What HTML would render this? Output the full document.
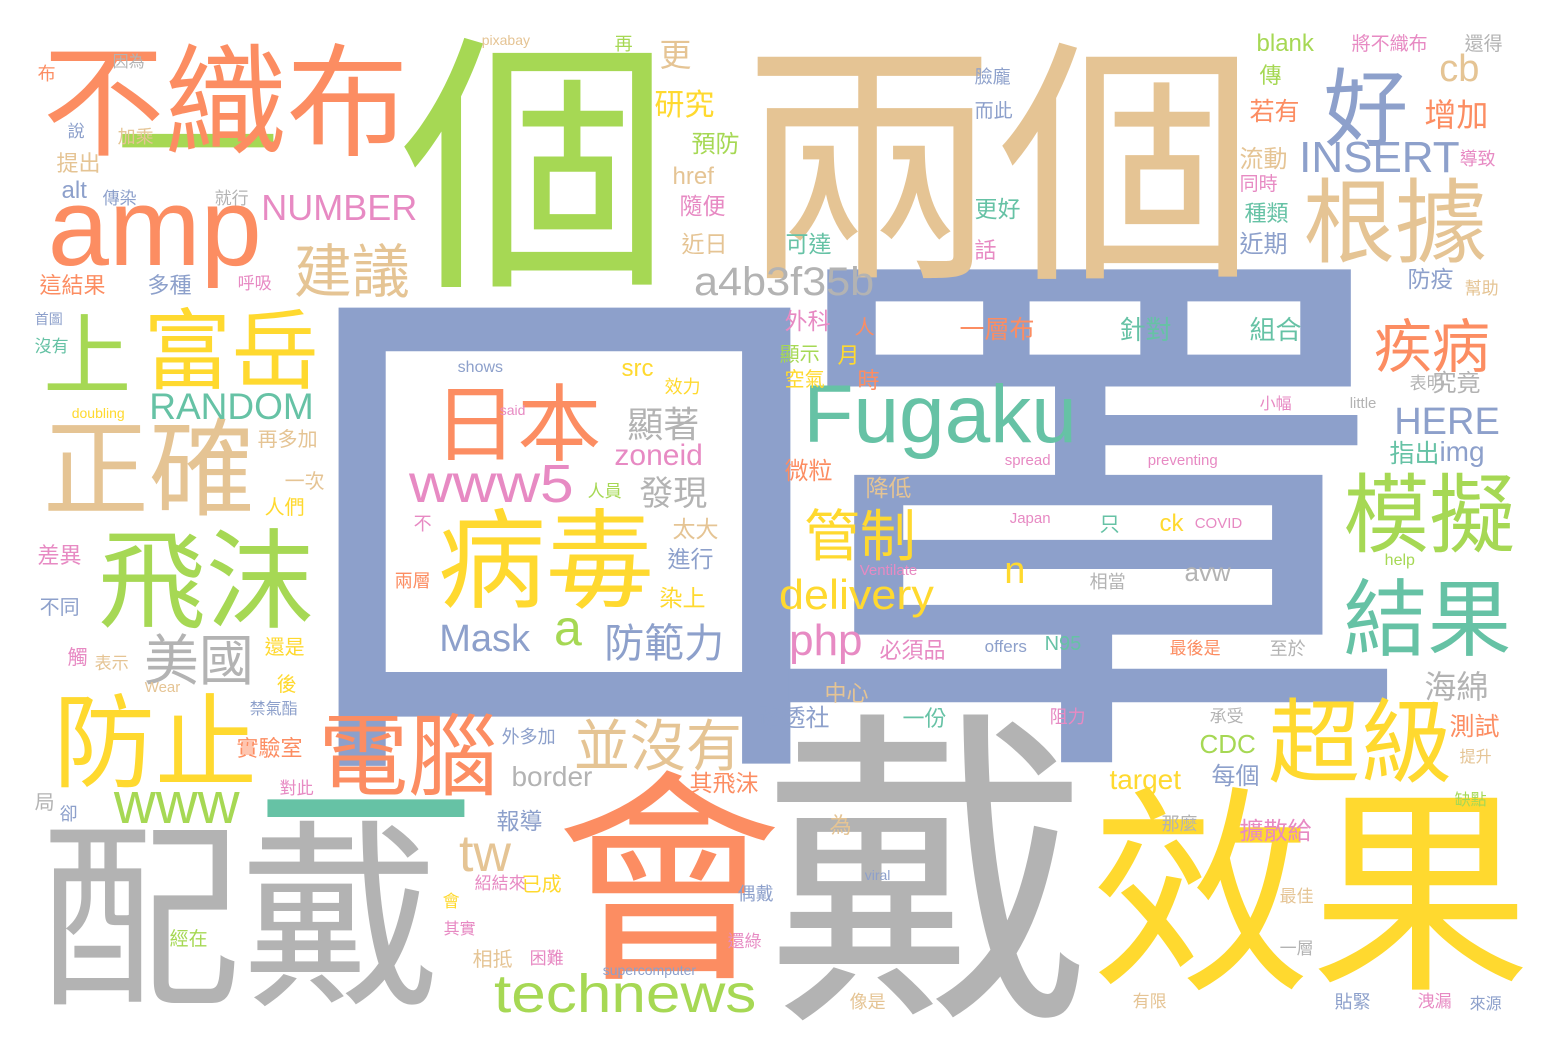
<!DOCTYPE html>
<html><head><meta charset="utf-8">
<style>
html,body{margin:0;padding:0;background:#fff;}
#cloud{position:relative;width:1548px;height:1052px;overflow:hidden;background:#fff;}
#cloud span{position:absolute;white-space:nowrap;line-height:1;font-family:"Liberation Sans","Noto Sans CJK TC",sans-serif;transform-origin:0 0;}
</style></head>
<body>
<div id="cloud"></div>
<script>
const palette = {g:'#a6d854',o:'#fc8d62',b:'#8da0cb',t:'#66c2a5',p:'#e78ac3',y:'#ffd92f',n:'#e5c494',a:'#b3b3b3'};
// word, color, ink-left, ink-top, font-size, kind (c=CJK, L=latin caps/ascenders, x=x-height only)
const words = [
['個','g',405,40,272,'c'],
['兩個','n',745,45,258,'c'],
['戴','a',770,720,330,'c'],
['會','o',560,775,226,'c'],
['效果','y',1095,790,220,'c'],
['配戴','a',45,825,200,'c'],
['不織布','o',45,45,122,'c'],
['amp','o',50,210,110,'x'],
['好','b',1325,70,85,'c'],
['根據','n',1305,180,92,'c'],
['上','g',45,315,88,'c'],
['富岳','y',145,310,88,'c'],
['正確','n',45,420,106,'c'],
['飛沫','g',100,530,108,'c'],
['美國','a',145,635,55,'c'],
['防止','y',55,695,102,'c'],
['電腦','o',320,715,90,'c'],
['www','g',115,795,58,'x'],
['建議','n',295,245,58,'c'],
['NUMBER','p',262,195,36,'L'],
['RANDOM','t',150,393,37,'L'],
['日本','o',435,385,84,'c'],
['www5','p',410,465,54,'L'],
['病毒','y',440,510,108,'c'],
['Mask','b',440,625,38,'L'],
['a','g',555,620,50,'x'],
['防範力','b',605,625,40,'c'],
['顯著','a',628,408,36,'c'],
['zoneid','p',615,445,30,'L'],
['發現','a',640,478,34,'c'],
['shows','b',458,362,16,'L'],
['Fugaku','t',805,385,82,'L'],
['一層布','o',960,318,25,'c'],
['針對','t',1120,318,26,'c'],
['組合','t',1250,318,26,'c'],
['模擬','g',1345,475,86,'c'],
['結果','t',1345,580,84,'c'],
['疾病','o',1375,320,58,'c'],
['超級','y',1270,700,92,'c'],
['並沒有','n',575,720,56,'c'],
['管制','y',805,510,56,'c'],
['delivery','y',780,580,42,'L'],
['php','p',790,625,44,'L'],
['tw','n',460,835,52,'L'],
['technews','g',495,975,54,'L'],
['a4b3f35b','a',695,268,40,'L'],
['INSERT','b',1300,142,44,'L'],
['cb','n',1440,55,38,'L'],
['增加','o',1425,100,32,'c'],
['HERE','b',1395,408,38,'L'],
['指出','t',1390,442,25,'c'],
['img','b',1440,442,28,'L'],
['海綿','a',1425,672,32,'c'],
['測試','o',1450,715,25,'c'],
['target','y',1110,770,28,'L'],
['每個','b',1212,765,24,'c'],
['擴散給','p',1240,820,24,'c'],
['CDC','g',1200,735,26,'L'],
['border','a',512,767,28,'L'],
['報導','b',497,810,23,'c'],
['研究','y',655,92,30,'c'],
['更','n',660,40,32,'c'],
['預防','g',692,133,24,'c'],
['href','n',673,168,24,'L'],
['隨便','p',680,195,23,'c'],
['近日','n',682,233,23,'c'],
['可達','t',786,233,23,'c'],
['更好','t',975,198,23,'c'],
['話','p',975,240,22,'c'],
['臉龐','b',975,68,18,'c'],
['而此','b',975,102,19,'c'],
['若有','o',1250,100,25,'c'],
['流動','n',1240,148,24,'c'],
['同時','p',1240,175,19,'c'],
['種類','t',1245,203,22,'c'],
['近期','b',1240,233,24,'c'],
['傳','g',1260,65,22,'c'],
['blank','g',1257,35,24,'L'],
['將不織布','p',1352,35,19,'c'],
['還得','a',1465,35,19,'c'],
['導致','p',1460,150,18,'c'],
['防疫','b',1408,268,23,'c'],
['幫助','n',1465,280,17,'c'],
['表明','a',1410,375,17,'c'],
['究竟','a',1433,372,24,'c'],
['小幅','p',1260,397,16,'c'],
['little','a',1350,398,15,'L'],
['preventing','p',1148,455,15,'L'],
['spread','p',1005,455,15,'L'],
['Japan','p',1010,513,15,'L'],
['只','t',1100,515,20,'c'],
['ck','y',1160,515,24,'L'],
['COVID','p',1195,518,15,'L'],
['n','y',1005,565,38,'x'],
['相當','a',1090,573,18,'c'],
['avw','a',1185,568,26,'x'],
['help','g',1385,555,16,'L'],
['Ventilate','p',860,565,15,'L'],
['offers','b',985,640,17,'L'],
['N95','t',1045,637,20,'L'],
['最後是','o',1170,640,17,'c'],
['至於','a',1270,640,18,'c'],
['承受','a',1210,708,17,'c'],
['阻力','p',1050,708,18,'c'],
['外科','p',785,310,23,'c'],
['人','o',855,318,20,'c'],
['顯示','g',780,345,20,'c'],
['月','y',838,345,22,'c'],
['時','o',858,370,22,'c'],
['空氣','y',785,370,20,'c'],
['src','y',622,365,24,'x'],
['效力','y',665,378,18,'c'],
['微粒','o',785,460,24,'c'],
['降低','n',866,477,23,'c'],
['太大','n',673,518,23,'c'],
['進行','b',668,548,23,'c'],
['染上','y',660,587,23,'c'],
['人員','g',588,483,17,'c'],
['不','p',414,515,18,'c'],
['兩層','o',395,572,18,'c'],
['said','p',500,405,14,'L'],
['必須品','p',880,640,22,'c'],
['中心','n',825,683,22,'c'],
['一份','t',903,708,22,'c'],
['路透社','b',758,707,24,'c'],
['實驗室','o',237,738,22,'c'],
['外多加','b',502,728,18,'c'],
['其飛沫','o',690,772,23,'c'],
['為','n',830,815,22,'c'],
['那麼','a',1162,815,18,'c'],
['已成','y',522,875,20,'c'],
['相抵','n',473,950,20,'c'],
['困難','p',530,950,17,'c'],
['偶戴','b',738,885,18,'c'],
['還綠','p',728,933,17,'c'],
['supercomputer','b',603,965,14,'L'],
['像是','n',850,993,18,'c'],
['有限','n',1133,993,17,'c'],
['貼緊','b',1335,993,18,'c'],
['洩漏','p',1418,993,17,'c'],
['來源','b',1470,997,16,'c'],
['最佳','n',1280,888,17,'c'],
['一層','a',1280,940,17,'c'],
['缺點','g',1455,793,16,'c'],
['提升','n',1460,750,16,'c'],
['紹結來','p',475,875,17,'c'],
['會','y',443,893,17,'c'],
['其實','p',444,922,16,'c'],
['viral','b',865,870,14,'L'],
['經在','g',170,930,19,'c'],
['局','a',35,793,20,'c'],
['卻','b',60,805,18,'c'],
['對此','p',280,780,17,'c'],
['禁氣酯','b',250,702,16,'c'],
['Wear','n',145,682,15,'L'],
['後','y',277,675,20,'c'],
['還是','y',265,638,20,'c'],
['觸','p',68,648,20,'c'],
['表示','n',95,655,17,'c'],
['不同','b',40,598,20,'c'],
['差異','p',38,545,22,'c'],
['人們','y',265,498,20,'c'],
['一次','n',285,472,20,'c'],
['再多加','n',258,430,20,'c'],
['doubling','y',72,408,14,'L'],
['首圖','b',35,312,14,'c'],
['沒有','t',35,338,17,'c'],
['這結果','o',40,275,22,'c'],
['多種','b',148,275,22,'c'],
['呼吸','p',238,275,17,'c'],
['alt','b',62,182,24,'L'],
['傳染','b',103,190,17,'c'],
['就行','a',215,190,17,'c'],
['提出','n',57,153,22,'c'],
['說','b',68,123,17,'c'],
['加乘','n',118,128,18,'c'],
['布','o',38,65,18,'c'],
['因為','a',113,55,16,'c'],
['pixabay','n',482,35,14,'L'],
['再','g',615,35,18,'c']
];
const widened = {'technews':1.15,'a4b3f35b':1.08,'www5':1.12,'delivery':1.07};
const offsets = {c:0.02, L:0.14, x:0.34};
const cloud = document.getElementById('cloud');
function place(w){
  const s = document.createElement('span');
  s.textContent = w[0];
  s.style.color = palette[w[1]];
  s.style.fontSize = w[4]+'px';
  s.style.left = (w[2] - 0.02*w[4])+'px';
  s.style.top = (w[3] - offsets[w[5]]*w[4])+'px';
  if (widened[w[0]]) s.style.transform = 'scaleX(' + widened[w[0]] + ')';
  cloud.appendChild(s);
  return s;
}
const kou = document.createElement('span');
kou.textContent = '口';


kou.style.color = palette.b;
kou.style.fontSize = '580px';
kou.style.left = '262px';
kou.style.top = '243px';
kou.style.transform = 'scale(1.04,1.0)';
cloud.appendChild(kou);
const zhao = document.createElement('span');
zhao.textContent = '罩';


zhao.style.color = palette.b;
zhao.style.fontSize = '560px';
zhao.style.left = '752px';
zhao.style.top = '244px';
zhao.style.transform = 'scaleX(1.2)';
cloud.appendChild(zhao);
const yi1 = document.createElement('span');
yi1.textContent = '一';


yi1.style.color = palette.g;
yi1.style.fontSize = '165px';
yi1.style.left = '115px';
yi1.style.top = '66px';
cloud.appendChild(yi1);
const yi2 = document.createElement('span');
yi2.textContent = '一';


yi2.style.color = palette.t;
yi2.style.fontSize = '215px';
yi2.style.left = '258px';
yi2.style.top = '710px';
cloud.appendChild(yi2);
words.forEach(function(w){
  const s = place(w);
  
  
});
</script>
</body></html>
